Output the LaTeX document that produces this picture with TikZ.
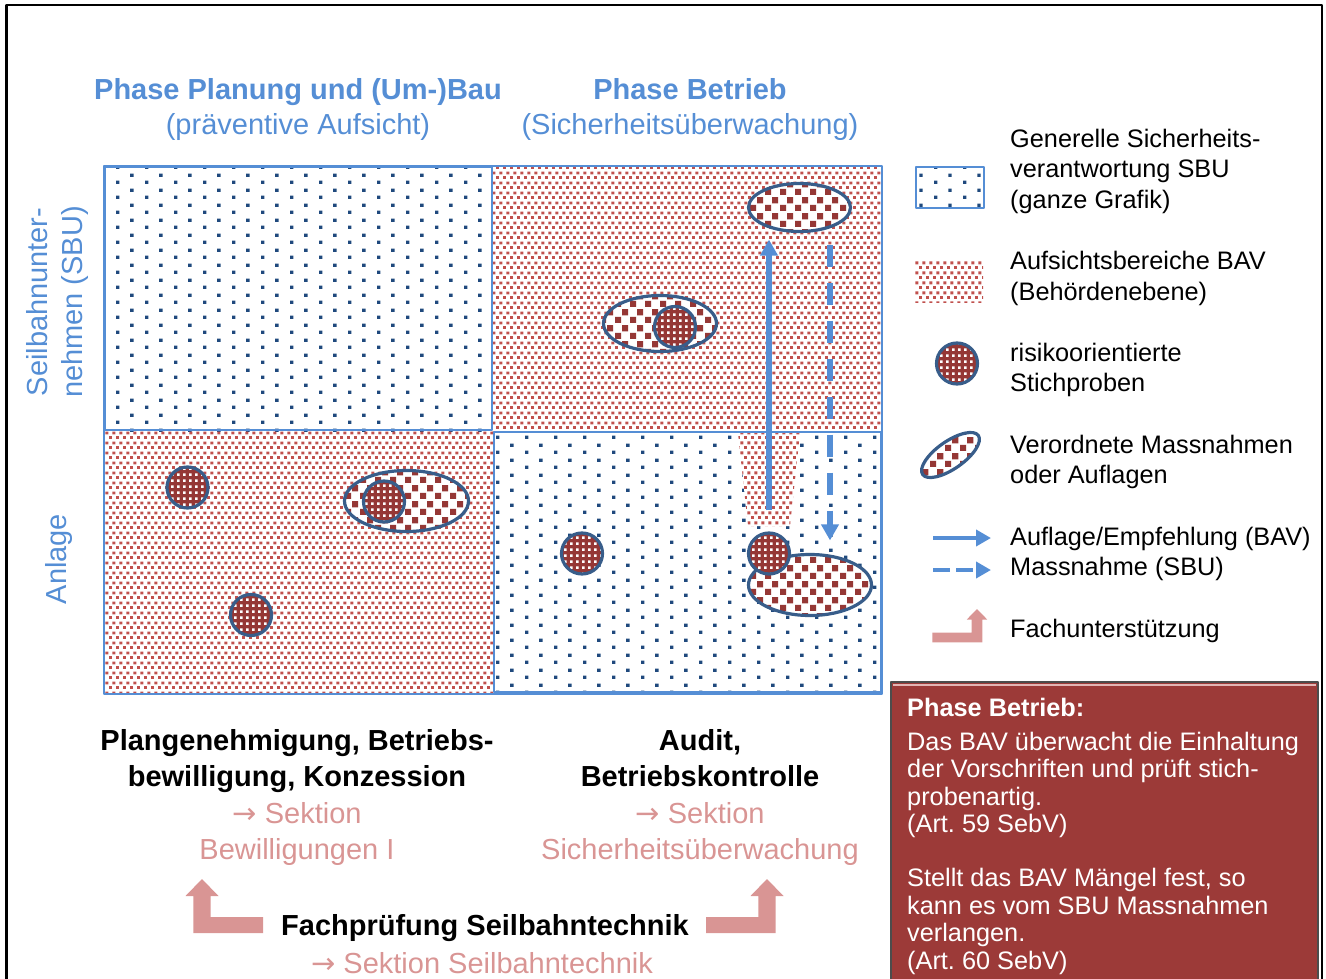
\documentclass[tikz,border=0pt]{standalone}
\usepackage{fontspec}
\setmainfont{Liberation Sans}
\newfontfamily\pfeilfont{DejaVu Sans}
\frenchspacing
\usetikzlibrary{patterns,shapes.geometric,arrows.meta}
\definecolor{hellblau}{RGB}{85,142,213}
\definecolor{punktblau}{RGB}{31,73,125}
\definecolor{bavrot}{RGB}{192,80,77}
\definecolor{dunkelrot}{RGB}{149,55,53}
\definecolor{randblau}{RGB}{56,93,138}
\definecolor{rosa}{RGB}{217,149,148}
\definecolor{boxrot}{RGB}{156,58,56}
\newcommand{\pf}{{\pfeilfont →}}
% Muster
\pgfdeclarepatternformonly{sbupunkte}{\pgfqpoint{0pt}{0pt}}{\pgfqpoint{29.2pt}{15pt}}{\pgfqpoint{29.2pt}{15pt}}{%
  \pgfpathrectangle{\pgfqpoint{0pt}{0pt}}{\pgfqpoint{3.5pt}{3.5pt}}%
  \pgfpathrectangle{\pgfqpoint{14.6pt}{7.5pt}}{\pgfqpoint{3.5pt}{3.5pt}}%
  \pgfusepath{fill}}
\pgfdeclarepatternformonly{bavpunkte}{\pgfqpoint{0pt}{0pt}}{\pgfqpoint{7.3pt}{10pt}}{\pgfqpoint{7.3pt}{10pt}}{%
  \pgfpathrectangle{\pgfqpoint{0pt}{0pt}}{\pgfqpoint{3.2pt}{3.2pt}}%
  \pgfpathrectangle{\pgfqpoint{3.65pt}{5pt}}{\pgfqpoint{3.2pt}{3.2pt}}%
  \pgfusepath{fill}}
\pgfdeclarepatternformonly{karo}{\pgfqpoint{0pt}{0pt}}{\pgfqpoint{15pt}{16pt}}{\pgfqpoint{15pt}{16pt}}{%
  \pgfpathrectangle{\pgfqpoint{0pt}{0pt}}{\pgfqpoint{6.5pt}{6.5pt}}%
  \pgfpathrectangle{\pgfqpoint{7.5pt}{8pt}}{\pgfqpoint{6.5pt}{6.5pt}}%
  \pgfusepath{fill}}
\pgfdeclarepatternformonly{gitter}{\pgfqpoint{0pt}{0pt}}{\pgfqpoint{5.7pt}{5.7pt}}{\pgfqpoint{5.7pt}{5.7pt}}{%
  \pgfpathrectangle{\pgfqpoint{0pt}{0pt}}{\pgfqpoint{2.7pt}{2.7pt}}%
  \pgfusepath{fill}}
\begin{document}
\begin{tikzpicture}[x=1pt, y=-1pt, line join=round,
  >={Triangle[width=17pt,length=16pt]},
  font=\fontsize{25.3}{30.5}\selectfont,
  sbu/.style={pattern=sbupunkte, pattern color=punktblau},
  bav/.style={pattern=bavpunkte, pattern color=bavrot},
  stichprobe/.style={circle, minimum size=41pt, inner sep=0pt, draw=randblau, line width=3.2pt,
    preaction={fill=dunkelrot}, pattern=gitter, pattern color=white},
  auflage/.style={ellipse, inner sep=0pt, draw=randblau, line width=3.2pt,
    preaction={fill=white}, pattern=karo, pattern color=dunkelrot},
  pfeilbav/.style={->, draw=hellblau, line width=5.5pt},
  pfeilsbu/.style={->, draw=hellblau, line width=5.5pt, dash pattern=on 22pt off 16pt},
  titel/.style={text=hellblau, font=\fontsize{29}{35}\selectfont, align=center, inner sep=0pt},
  unten/.style={font=\fontsize{29}{36.3}\selectfont, align=center, inner sep=0pt},
  legende/.style={anchor=west, align=left, inner sep=0pt},
  weiss/.style={anchor=west, align=left, inner sep=0pt, text=white, font=\fontsize{25.3}{27.5}\selectfont}]
  \useasboundingbox (0,0) rectangle (1326,979);
  \def\fachpfeil#1{(0,0) -- (16.5,17) -- (8.7,17) -- (8.7,38) -- (#1,38) -- (#1,54) -- (-8.7,54) -- (-8.7,17) -- (-16.5,17) -- cycle}
  \draw[line width=2.5pt] (6.5,979) -- (6.5,5) -- (1322,5) -- (1322,979);
  % Titel
  \node[titel] (tPlan) at (298,109.5) {\textbf{Phase Planung und (Um-)Bau}\\(präventive Aufsicht)};
  \node[titel] (tBetr) at (690,109.5) {\textbf{Phase Betrieb}\\(Sicherheitsüberwachung)};
  \node[titel, rotate=90] (tSBU) at (57,302) {Seilbahnunter-\\nehmen (SBU)};
  \node[titel, rotate=90] (tAnl) at (59,559) {Anlage};
  % Felder
  \fill[sbu] (104,166) rectangle (492,431);
  \fill[bav] (492,166) rectangle (882,431);
  \fill[bav] (104,431) rectangle (494,694);
  \fill[sbu] (494,432) rectangle (882,692);
  \fill[white] (738,433) -- (800,433) -- (790,526) -- (748,526) -- cycle;
  \fill[bav] (738,433) -- (800,433) -- (790,526) -- (748,526) -- cycle;
  \draw[hellblau, line width=1.2pt] (104,166) rectangle (882,694);
  \draw[hellblau, line width=2.5pt] (105,167) rectangle (492,430);
  \draw[hellblau, line width=2.5pt] (494,432) rectangle (881,692);
  % Massnahmen und Stichproben
  \node[auflage, minimum width=102pt, minimum height=48pt] (eOben) at (799.5,207.5) {};
  \node[auflage, minimum width=113pt, minimum height=56pt] (eMitte) at (660,323.5) {};
  \node[stichprobe] (sMitte) at (675,327) {};
  \node[auflage, minimum width=123pt, minimum height=61pt] (eUnten) at (810,585) {};
  \node[stichprobe] (sPfeil) at (769,553.5) {};
  \node[stichprobe] (sBR) at (582,553.5) {};
  \node[stichprobe] (sBL1) at (187.5,487.5) {};
  \node[stichprobe] (sBL2) at (251,615) {};
  \node[auflage, minimum width=124pt, minimum height=61pt] (eBL) at (406.5,501) {};
  \node[stichprobe] (sBL3) at (384,501.5) {};
  \draw[pfeilbav, shorten <=21pt, shorten >=6.5pt] (sPfeil.north) -- (sPfeil.north |- eOben.south);
  \draw[pfeilsbu, shorten <=11.5pt, shorten >=12.5pt] ([xshift=30.5pt]eOben.south) -- ([xshift=30.5pt]eOben.south |- eUnten.north);
  % Legende
  \draw[sbu, draw=hellblau, line width=2pt] (916,167) rectangle (984,208);
  \fill[bav] (915,260) rectangle (983,302);
  \node[stichprobe] (lgS) at (957,363.5) {};
  \node[auflage, minimum width=68pt, minimum height=27.5pt, rotate=35] (lgE) at (950.5,455) {};
  \coordinate (lgA1) at (933,538); \coordinate (lgA2) at (991,538);
  \coordinate (lgB1) at (933,570); \coordinate (lgB2) at (991,570);
  \draw[pfeilbav, line width=4.5pt, >={Triangle[width=16pt,length=15pt]}] (lgA1) -- (lgA2);
  \draw[pfeilbav, line width=4.5pt, dash pattern=on 17pt off 6pt, >={Triangle[width=16pt,length=15pt]}] (lgB1) -- (lgB2);
  \fill[rosa, shift={(977,609)}, scale=0.62, xscale=-1] \fachpfeil{72};
  \node[legende] (lg1) at (1010,171) {Generelle Sicherheits-\\verantwortung SBU\\(ganze Grafik)};
  \node[legende] (lg2) at (1010,278.5) {Aufsichtsbereiche BAV\\(Behördenebene)};
  \node[legende] (lg3) at (1010,370) {risikoorientierte\\Stichproben};
  \node[legende] (lg4) at (1010,462) {Verordnete Massnahmen\\oder Auflagen};
  \node[legende] (lg5) at (1010,554) {Auflage/Empfehlung (BAV)\\Massnahme (SBU)};
  \node[legende] (lg6) at (1010,630.5) {Fachunterstützung};
  % Aufgaben
  \node[unten] (uPlan) at (297,797.5) {\textbf{Plangenehmigung, Betriebs-}\\\textbf{bewilligung, Konzession}\\\textcolor{rosa}{\pf\ Sektion}\\\textcolor{rosa}{Bewilligungen I}};
  \node[unten] (uBetr) at (700,797.5) {\textbf{Audit,}\\\textbf{Betriebskontrolle}\\\textcolor{rosa}{\pf\ Sektion}\\\textcolor{rosa}{Sicherheitsüberwachung}};
  \node[unten] (fach) at (485,928) {\textbf{Fachprüfung Seilbahntechnik}};
  \node[unten, text=rosa] (fachS) at (482,963) {\pf\ Sektion Seilbahntechnik};
  \fill[rosa, shift={(202,879)}] \fachpfeil{61};
  \fill[rosa, shift={(767,879)}, xscale=-1] \fachpfeil{61};
  % Textfeld
  \fill[boxrot] (891,682) rectangle (1318,985);
  \draw[black!70, line width=1.2pt] (891,985) -- (891,682) -- (1318,682) -- (1318,985);
  \draw[rosa!70!white, line width=2pt] (893,684.5) -- (1316,684.5);
  \node[weiss, font=\bfseries\fontsize{25.3}{27.5}\selectfont] (bTitel) at (907,707.5) {Phase Betrieb:};
  \node[weiss] (bText1) at (907,785) {Das BAV überwacht die Einhaltung\\der Vorschriften und prüft stich-\\probenartig.\\(Art. 59 SebV)};
  \node[weiss] (bText2) at (907,921.5) {Stellt das BAV Mängel fest, so\\kann es vom SBU Massnahmen\\verlangen.\\(Art. 60 SebV)};
\end{tikzpicture}
\end{document}
